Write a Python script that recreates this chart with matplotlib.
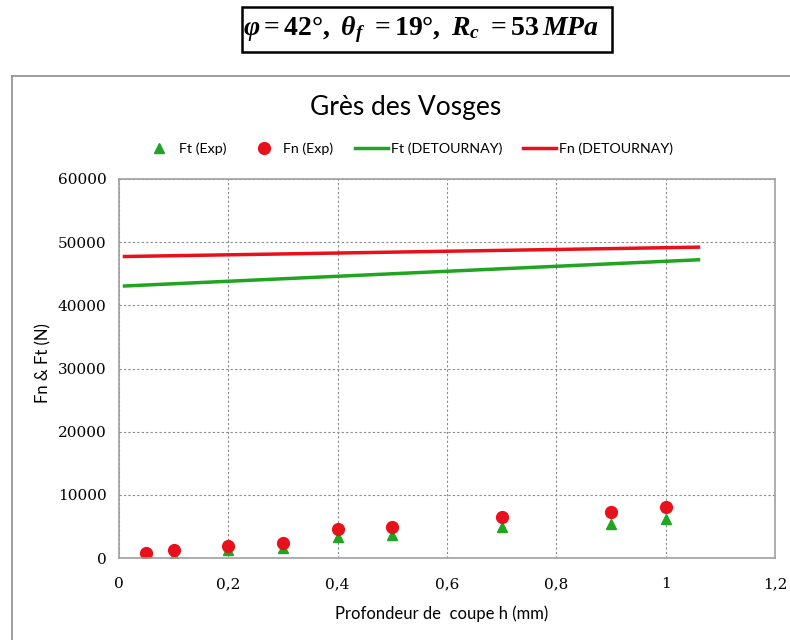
import matplotlib
matplotlib.use('Agg')
import matplotlib.pyplot as plt
from matplotlib.lines import Line2D
from matplotlib.patches import Rectangle

# donnees
h_exp = [0.05, 0.1, 0.2, 0.3, 0.4, 0.5, 0.7, 0.9, 1.0]
ft_exp = [160, 370, 1210, 1580, 3320, 3680, 4890, 5370, 6160]
fn_exp = [790, 1210, 1950, 2370, 4630, 4890, 6470, 7210, 8000]

h_det = [0.01, 1.06]
ft_det = [43060, 47210]
fn_det = [47730, 49210]

x_ticks = [0, 0.2, 0.4, 0.6, 0.8, 1.0, 1.2]
x_tick_labels = ['0', '0,2', '0,4', '0,6', '0,8', '1', '1,2']
y_ticks = [0, 10000, 20000, 30000, 40000, 50000, 60000]

GREEN = '#1fa51f'
RED = '#e8101a'
sans = ['Lato', 'DejaVu Sans']

plt.rcParams['mathtext.fontset'] = 'custom'
plt.rcParams['mathtext.rm'] = 'Liberation Serif:bold'
plt.rcParams['mathtext.it'] = 'Liberation Serif:bold:italic'
plt.rcParams['mathtext.bf'] = 'Liberation Serif:bold'

W, H = 790, 640
fig = plt.figure(figsize=(W / 100, H / 100), dpi=100)

def fx(px):
    return px / W

def fy(py):
    return 1 - py / H

# cadre du graphique
fig.add_artist(Line2D([fx(12), fx(12)], [fy(76), 0], color='#8c8c8c', lw=1.2))
fig.add_artist(Line2D([fx(12), 1], [fy(76), fy(76)], color='#8c8c8c', lw=1.2))

# encadre des parametres
fig.add_artist(Rectangle((fx(242), fy(52)), fx(612) - fx(242), fy(7) - fy(52),
                         transform=fig.transFigure, fill=False, ec='black', lw=1.8))
fig.text(fx(421), fy(30), r'$\varphi = 42°,\ \theta_f\ = 19°,\ R_c\ = 53\,MPa$',
         ha='center', va='center', fontsize=20)

ax = fig.add_axes([fx(119), fy(558), fx(775) - fx(119), fy(179) - fy(558)])

ax.plot(h_exp, ft_exp, '^', color=GREEN, ms=7.5, ls='none', label='Ft (Exp)')
ax.plot(h_exp, fn_exp, 'o', color=RED, ms=8.5, ls='none', label='Fn (Exp)')
ax.plot(h_det, ft_det, '-', color=GREEN, lw=2.5, label='Ft (DETOURNAY)')
ax.plot(h_det, fn_det, '-', color=RED, lw=2.5, label='Fn (DETOURNAY)')

ax.set_xlim(0, 1.2)
ax.set_ylim(0, 60000)
ax.set_xticks(x_ticks)
ax.set_xticklabels(x_tick_labels)
ax.set_yticks(y_ticks)
ax.grid(True, color='#8a8a8a', ls=(0, (2, 2)), lw=0.8)
ax.set_axisbelow(True)
for s in ax.spines.values():
    s.set_color('#a0a0a0')
    s.set_linewidth(1.2)
ax.tick_params(length=0, labelsize=11)
ax.tick_params(axis='x', pad=14)
ax.tick_params(axis='y', pad=9)
for lab in ax.get_xticklabels() + ax.get_yticklabels():
    lab.set_fontfamily('DejaVu Serif')

fig.text(fx(406), fy(107), 'Grès des Vosges', ha='center', va='center',
         fontsize=19, family=sans)
fig.text(fx(442), fy(614), 'Profondeur de  coupe h (mm)', ha='center', va='center',
         fontsize=12, family=sans)
fig.text(fx(43), fy(363), 'Fn & Ft (N)', ha='center', va='center', rotation=90,
         fontsize=12, family=sans)

fig.legend(loc='center', bbox_to_anchor=(fx(408), fy(149)), ncol=4, frameon=False,
           prop={'family': sans, 'size': 10.3}, handlelength=2.3, columnspacing=1.5,
           handletextpad=0.2)

fig.savefig('out.png', dpi=100)
